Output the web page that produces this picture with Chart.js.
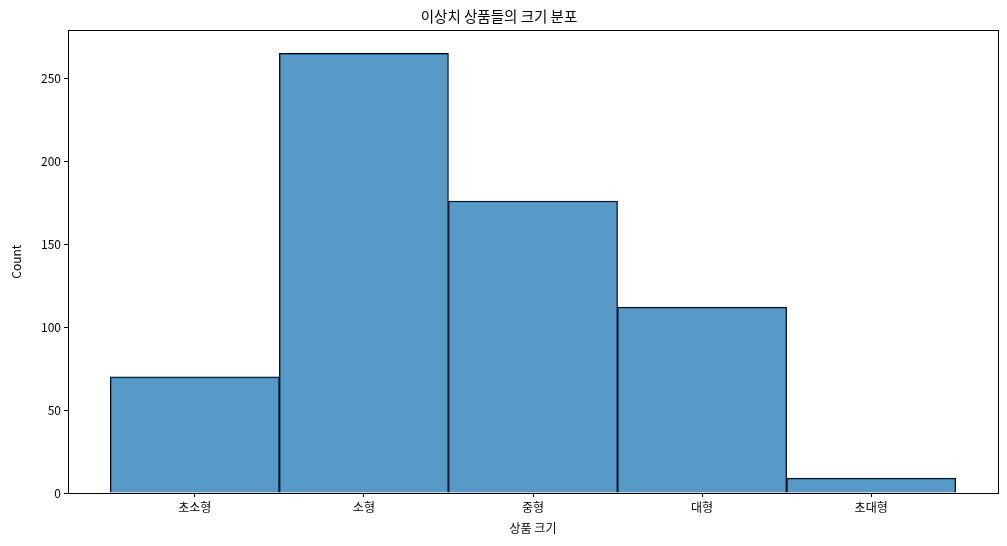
<!DOCTYPE html>
<html>
<head>
<meta charset="utf-8">
<script src="https://cdn.jsdelivr.net/npm/chart.js@4"></script>
<style>
  html, body { margin: 0; padding: 0; background: #fff; }
  #wrap { width: 1007px; height: 546px; }
</style>
</head>
<body>
<div id="wrap"><canvas id="sizeChart"></canvas></div>
<script>
// =========================
// DATA
// =========================
const categories = ['초소형', '소형', '중형', '대형', '초대형'];
const counts = [70, 265, 176, 112, 9];
const yTicks = [0, 50, 100, 150, 200, 250];

const FONT = '"Noto Sans CJK KR", "Noto Sans", sans-serif';
Chart.defaults.font.family = FONT;
Chart.defaults.color = '#000';

// black frame round the plot area (matplotlib spines)
const frame = {
  id: 'frame',
  afterDatasetsDraw(chart) {
    const a = chart.chartArea, ctx = chart.ctx;
    ctx.save();
    ctx.strokeStyle = '#000';
    ctx.lineWidth = 1;
    ctx.strokeRect(Math.round(a.left) + 0.5, Math.round(a.top) + 0.5,
                   Math.round(a.right - a.left), Math.round(a.bottom - a.top));
    ctx.restore();
  }
};

const ctx = document.getElementById('sizeChart');

new Chart(ctx, {
  type: 'bar',
  data: {
    datasets: [{
      label: 'Count',
      data: counts.map((c, i) => ({ x: i, y: c })),
      backgroundColor: 'rgba(31,119,180,0.75)',
      borderColor: '#000',
      borderWidth: 1,
      barPercentage: 1,
      categoryPercentage: 1
    }]
  },
  options: {
    responsive: true,
    maintainAspectRatio: false,
    animation: false,
    layout: { padding: { left: 0, right: 9, top: 0, bottom: 0 } },
    plugins: {
      legend: { display: false },
      tooltip: { enabled: false },
      title: {
        display: true,
        text: '이상치 상품들의 크기 분포',
        color: '#000',
        font: { size: 14.5, weight: 'normal' },
        padding: { top: 8, bottom: 5 }
      }
    },
    scales: {
      x: {
        type: 'linear',
        min: -0.75,
        max: 4.75,
        offset: false,
        afterBuildTicks: s => { s.ticks = categories.map((_, i) => ({ value: i })); },
        afterFit: s => { s.height = 53; },
        ticks: {
          callback: v => categories[v] ?? '',
          font: { size: 12 },
          padding: 3,
          maxRotation: 0
        },
        grid: { offset: false, drawOnChartArea: false, drawTicks: true, tickLength: 4, color: '#000' },
        border: { display: true, color: '#000' },
        title: {
          display: true,
          text: '상품 크기',
          font: { size: 12 },
          padding: { top: 0, bottom: 10 }
        }
      },
      y: {
        min: 0,
        max: 278.8,
        afterBuildTicks: s => { s.ticks = yTicks.map(v => ({ value: v })); },
        afterFit: s => { s.width = 68; },
        ticks: { font: { size: 12 }, padding: 3 },
        grid: { drawOnChartArea: false, drawTicks: true, tickLength: 4, color: '#000' },
        border: { display: true, color: '#000' },
        title: {
          display: true,
          text: 'Count',
          font: { size: 12 },
          padding: { top: 9, bottom: 0 }
        }
      }
    }
  },
  plugins: [frame]
});
</script>
</body>
</html>
